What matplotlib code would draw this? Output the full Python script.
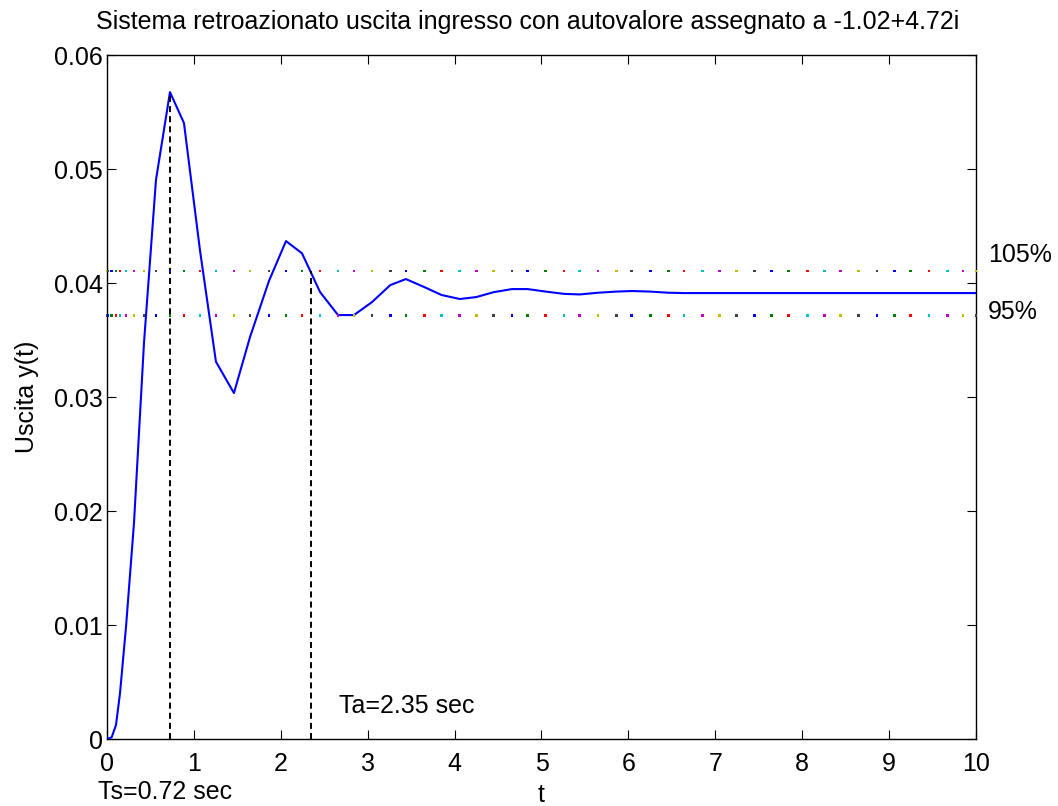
import matplotlib
matplotlib.use('Agg')
import matplotlib.pyplot as plt

plt.rcParams['font.family'] = ['Liberation Sans', 'DejaVu Sans']

# time samples of the closed-loop simulation (adaptive step)
t = [0, 0.012, 0.054, 0.104, 0.150, 0.219, 0.311, 0.426, 0.564, 0.725,
     0.886, 1.070, 1.254, 1.461, 1.646, 1.864, 2.060, 2.244, 2.452, 2.659,
     2.842, 3.05, 3.26, 3.44, 3.65, 3.85, 4.06, 4.25, 4.45, 4.66,
     4.84, 5.05, 5.26, 5.44, 5.65, 5.86, 6.04, 6.25, 6.46, 6.64,
     6.85, 7.05, 7.24, 7.45, 7.65, 7.84, 8.06, 8.26, 8.44, 8.65,
     8.86, 9.06, 9.25, 9.46, 9.67, 9.85, 10.0]

# output y(t)
y = [0, 0.00003, 0.00015, 0.00123, 0.00401, 0.00982, 0.01895, 0.03474, 0.04904, 0.05675,
     0.05404, 0.04289, 0.03310, 0.03035, 0.03526, 0.04018, 0.04368, 0.04261, 0.03921, 0.03719,
     0.03719, 0.03833, 0.03982, 0.04035, 0.03965, 0.03895, 0.03860, 0.03877, 0.03920, 0.03947,
     0.03947, 0.03925, 0.03905, 0.03900, 0.03915, 0.03925, 0.03930, 0.03925, 0.03915, 0.03912,
     0.03912, 0.03912, 0.03912, 0.03912, 0.03912, 0.03912, 0.03912, 0.03912, 0.03912, 0.03912,
     0.03912, 0.03912, 0.03912, 0.03912, 0.03912, 0.03912, 0.03912]

y_ss = 0.0391       # steady state value
Ts = 0.72           # peak time
Ta = 2.35           # settling time (5%)
y_peak = 0.05675

x_ticks = list(range(11))
y_ticks = [0, 0.01, 0.02, 0.03, 0.04, 0.05, 0.06]
y_tick_labels = ['0', '0.01', '0.02', '0.03', '0.04', '0.05', '0.06']

# old-style color order b g r c m y k
color_order = [(0, 0, 1), (0, 0.5, 0), (1, 0, 0), (0, 0.75, 0.75),
               (0.75, 0, 0.75), (0.75, 0.75, 0), (0.25, 0.25, 0.25)]

fig = plt.figure(figsize=(10.58, 8.06), dpi=100, facecolor='white')
ax = fig.add_axes([0.1011, 0.0831, 0.8214, 0.8486])

ax.plot(t, y, color=(0, 0, 1), lw=1.5, zorder=3)

# 5% band: one colored dot per time sample
upper = 1.05 * y_ss
lower = 0.95 * y_ss
up_colors = [color_order[(k - 2) % 7] for k in range(len(t))]
lo_colors = [color_order[(k - 1) % 7] for k in range(len(t))]
ax.scatter(t, [upper] * len(t), c=up_colors, s=4, marker='s', linewidths=0, zorder=5, clip_on=False)
ax.scatter(t, [lower] * len(t), c=lo_colors, s=4, marker='s', linewidths=0, zorder=5, clip_on=False)

# peak time and settling time markers
ax.plot([Ts, Ts], [0, y_peak], color='black', lw=1.4, linestyle=(0, (3.1, 2.1)), zorder=4)
ax.plot([Ta, Ta], [0, upper], color='black', lw=1.4, linestyle=(0, (3.1, 2.1)), zorder=4)

ax.text(-0.1, -0.00526, 'Ts=0.72 sec', fontsize=18, va='baseline', ha='left', clip_on=False)
ax.text(2.67, 0.00231, 'Ta=2.35 sec', fontsize=18, va='baseline', ha='left')
ax.text(10.14, 0.04187, '105%', fontsize=18, va='baseline', ha='left', clip_on=False)
ax.text(10.14, 0.03682, '95%', fontsize=18, va='baseline', ha='left', clip_on=False)

ax.set_xlim(0, 10)
ax.set_ylim(0, 0.06)
ax.set_xticks(x_ticks)
ax.set_yticks(y_ticks)
ax.set_yticklabels(y_tick_labels)
ax.tick_params(direction='in', length=6.5, width=0.8, top=True, right=True,
               labelsize=18, color='black')
ax.tick_params(axis='x', pad=9.5)
ax.tick_params(axis='y', pad=3)
for sp in ax.spines.values():
    sp.set_linewidth(1.0)
    sp.set_color('black')

ax.set_xlabel('t', fontsize=18, labelpad=5)
ax.set_ylabel('Uscita y(t)', fontsize=18, labelpad=11)
ax.set_title('Sistema retroazionato uscita ingresso con autovalore assegnato a -1.02+4.72i',
             fontsize=18, pad=19, x=0.4845)

fig.savefig('out.png', dpi=100, facecolor='white')
